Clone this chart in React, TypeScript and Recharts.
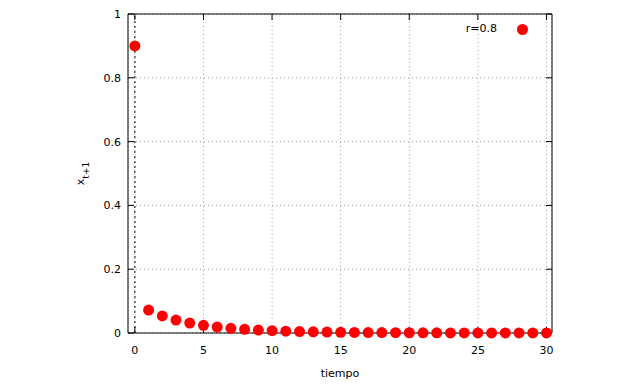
import React from 'react';
import { ScatterChart, Scatter, XAxis, YAxis, CartesianGrid, ReferenceLine, Legend } from 'recharts';

const tiempo = [0, 1, 2, 3, 4, 5, 6, 7, 8, 9, 10, 11, 12, 13, 14, 15, 16, 17, 18, 19, 20, 21, 22, 23, 24, 25, 26, 27, 28, 29, 30];
const xSiguiente = [
  0.9, 0.072, 0.0535, 0.0405, 0.0311, 0.0241, 0.0188, 0.0148, 0.0116, 0.0092, 0.0073,
  0.0058, 0.0046, 0.0037, 0.0029, 0.0023, 0.0019, 0.0015, 0.0012, 0.00095, 0.00076,
  0.00061, 0.00048, 0.00039, 0.00031, 0.00025, 0.0002, 0.00016, 0.00013, 0.0001, 0.00008,
];
const xTicks = [0, 5, 10, 15, 20, 25, 30];
const yTicks = [0, 0.2, 0.4, 0.6, 0.8, 1];
const serie = 'r=0.8';

const data = tiempo.map((t, i) => ({ t, x: xSiguiente[i] }));

const font = 'DejaVu Sans';
const tickStyle = { fontSize: 11, fill: '#000', fontFamily: font };

const YLabel = ({ viewBox }: any) => {
  const cx = viewBox.x + viewBox.width - 44;
  const cy = viewBox.y + viewBox.height / 2;
  return (
    <text x={cx} y={cy} transform={`rotate(-90 ${cx} ${cy})`} textAnchor="middle" fontSize={11} fontFamily={font} fill="#000">
      x<tspan baselineShift="sub" fontSize={9}>t+1</tspan>
    </text>
  );
};

const XLabel = ({ viewBox }: any) => (
  <text x={viewBox.x + viewBox.width / 2} y={viewBox.y + 44} textAnchor="middle" fontSize={11} fontFamily={font} fill="#000">
    tiempo
  </text>
);

const NoTick = () => <g />;
const NoDot = () => <g />;

const Dot = (props: any) => <circle cx={props.cx} cy={props.cy} r={5.5} fill="#ff0000" />;

const LegendBox = ({ payload }: any) => (
  <div style={{ display: 'flex', alignItems: 'center', justifyContent: 'flex-end', fontFamily: font, fontSize: 11, lineHeight: '16px', color: '#000' }}>
    <span>{serie}</span>
    <span style={{ display: 'inline-block', width: 11, height: 11, borderRadius: '50%', background: '#ff0000', marginLeft: 20 }} />
  </div>
);

export default function App() {
  return (
    <div style={{ position: 'absolute', left: 0, top: 0 }}>
      <ScatterChart width={640} height={384} margin={{ top: 13, right: 87, bottom: 0, left: 0 }}>
        <CartesianGrid stroke="#a0a0a0" strokeDasharray="1 3" />
        <ReferenceLine x={0} stroke="#000" strokeDasharray="2 3" />
        <XAxis
          dataKey="t"
          type="number"
          domain={[-0.5, 30.4]}
          ticks={xTicks}
          height={51}
          tickSize={-6}
          tickMargin={19}
          tick={tickStyle}
          stroke="#000"
          label={<XLabel />}
        />
        {/* mirrored border axes */}
        <XAxis xAxisId="top" dataKey="t" orientation="top" type="number" domain={[-0.5, 30.4]} ticks={xTicks} height={1} tickSize={-6} tick={<NoTick />} stroke="#000" />
        <YAxis
          dataKey="x"
          type="number"
          domain={[0, 1]}
          ticks={yTicks}
          width={128}
          tickSize={-6}
          tickMargin={13}
          tick={tickStyle}
          stroke="#000"
          label={<YLabel />}
        />
        <YAxis yAxisId="right" dataKey="x" orientation="right" type="number" domain={[0, 1]} ticks={yTicks} width={1} tickSize={-6} tick={<NoTick />} stroke="#000" />
        <Legend
          verticalAlign="middle"
          layout="horizontal"
          wrapperStyle={{ left: 400, top: 21, width: 128, height: 16 }}
          content={<LegendBox />}
        />
        <Scatter xAxisId="top" yAxisId="right" data={data} shape={<NoDot />} legendType="none" isAnimationActive={false} />
        <Scatter name={serie} data={data} shape={<Dot />} isAnimationActive={false} />
      </ScatterChart>
    </div>
  );
}
